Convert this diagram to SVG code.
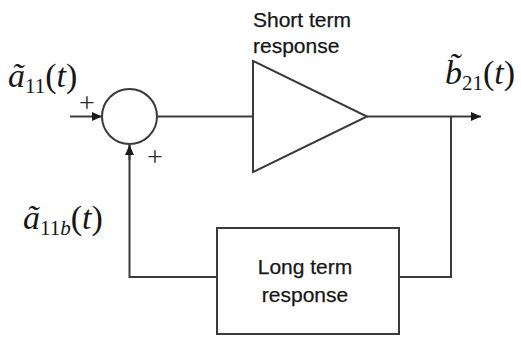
<svg xmlns="http://www.w3.org/2000/svg" width="521" height="337" viewBox="0 0 521 337">
  <style>
    .ln { fill: none; stroke: #3a3a3a; stroke-width: 2; }
    .lbl { font-family: "Liberation Sans", Arial, sans-serif; font-size: 21px; fill: #161616; stroke: #161616; stroke-width: 0.25; }
    .math { font-family: "Liberation Serif", "Times New Roman", serif; font-size: 34px; fill: #161616; }
    .it { font-style: italic; }
    .sub { font-size: 21px; }
    .sign { font-family: "Liberation Serif", "Times New Roman", serif; font-size: 28px; fill: #2a2a2a; }
  </style>
  <defs>
    <marker id="arrow" viewBox="0 0 10 9" refX="10" refY="4.5" markerWidth="10" markerHeight="9" markerUnits="userSpaceOnUse" orient="auto">
      <path d="M0,0 L10,4.5 L0,9 Z" fill="#1a1a1a"/>
    </marker>
  </defs>

  <rect width="521" height="337" fill="#ffffff"/>

  <g id="connectors">
    <line class="ln" x1="70" y1="116.5" x2="102" y2="116.5" marker-end="url(#arrow)"/>
    <line class="ln" x1="157" y1="116.5" x2="253" y2="116.5"/>
    <line class="ln" x1="367" y1="116.5" x2="481" y2="116.5" marker-end="url(#arrow)"/>
    <polyline class="ln" points="451,116.5 451,277 399,277"/>
    <polyline class="ln" points="217,277 129.5,277 129.5,145"/>
    <line class="ln" x1="129.5" y1="160" x2="129.5" y2="145" marker-end="url(#arrow)"/>
  </g>

  <g id="summer">
    <circle class="ln" cx="129.5" cy="116.5" r="27.5"/>
    <text class="sign" x="87" y="112" text-anchor="middle">+</text>
    <text class="sign" x="155" y="166" text-anchor="middle">+</text>
  </g>

  <g id="short-term">
    <polygon class="ln" points="253,61 253,172 367,116.5"/>
    <text class="lbl" x="253" y="27">Short term</text>
    <text class="lbl" x="253" y="53">response</text>
  </g>

  <g id="long-term">
    <rect class="ln" x="217" y="228" width="182" height="106"/>
    <text class="lbl" x="305" y="274" text-anchor="middle">Long term</text>
    <text class="lbl" x="305" y="302" text-anchor="middle">response</text>
  </g>

  <g id="input-label">
    <text class="math" x="8" y="87"><tspan class="it">ã</tspan><tspan class="sub" dy="6">11</tspan><tspan dy="-6">(</tspan><tspan class="it">t</tspan>)</text>
  </g>

  <g id="feedback-label">
    <text class="math" x="23" y="229"><tspan class="it">ã</tspan><tspan class="sub" dy="6">11</tspan><tspan class="sub it">b</tspan><tspan dy="-6">(</tspan><tspan class="it">t</tspan>)</text>
  </g>

  <g id="output-label">
    <text class="math" x="445" y="84"><tspan class="it">b̃</tspan><tspan class="sub" dy="6">21</tspan><tspan dy="-6">(</tspan><tspan class="it">t</tspan>)</text>
  </g>
</svg>
